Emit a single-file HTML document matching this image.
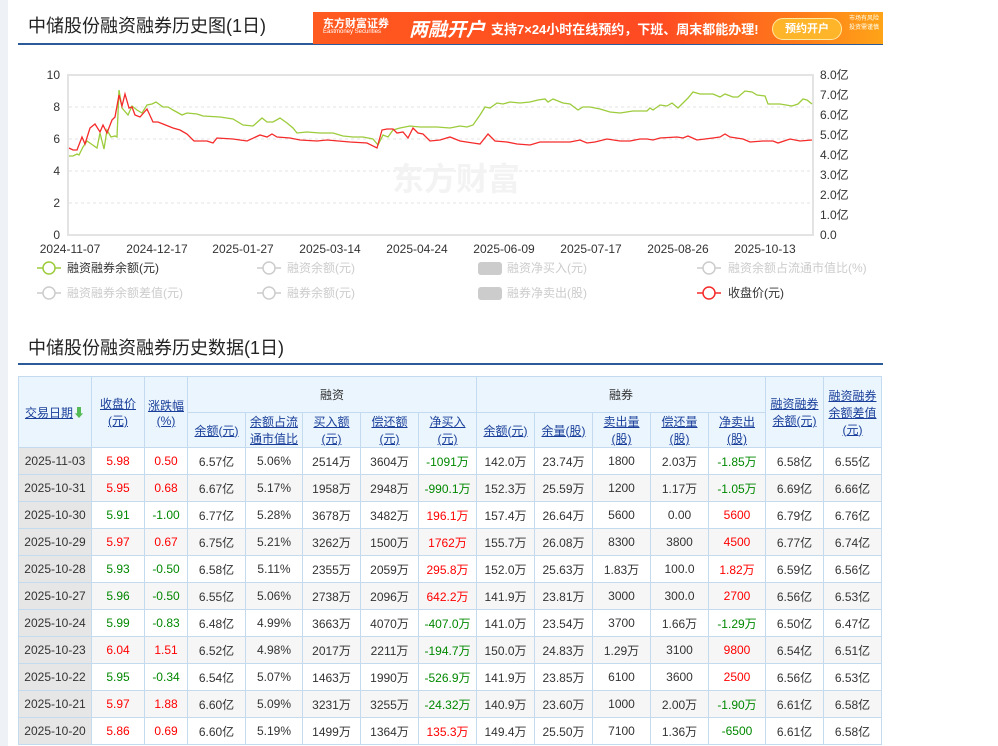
<!DOCTYPE html>
<html><head><meta charset="utf-8"><style>
body{margin:0;width:998px;height:746px;overflow:hidden;background:#fff;font-family:"Liberation Sans","Noto Sans CJK SC",sans-serif;position:relative}
.strip{position:absolute;left:0;top:0;width:8px;height:746px;background:#eef1f6}
.t{position:absolute;left:28px;font-size:18px;color:#222}
.ul{position:absolute;left:18px;width:865px;height:2px;background:#2c5b9a}
.banner{position:absolute;left:313px;top:12px;width:570px;height:32px;background:linear-gradient(90deg,#ff5a1f,#ff4a22 60%,#ff7a1a 85%,#ffa418);color:#fff}
table{position:absolute;left:18px;top:376px;border-collapse:collapse;font-size:12px;color:#333}
td,th{border:1px solid #c4dbef;text-align:center;padding:0;font-weight:normal}
th{background:#eaf5fd;color:#333}
th a{color:#1a3f9a;text-decoration:underline}
tbody td{height:26px}
tbody tr:nth-child(even) td{background:#f6f6f6}
td.d{background:#e6e6e6!important}
.r{color:#f00}.g{color:#080}
</style></head><body>
<div class="strip"></div>
<div class="t" style="top:12px">中储股份融资融券历史图(1日)</div>
<div class="ul" style="top:43px"></div>
<div class="banner">
<div style="position:absolute;left:10px;top:3px;font-size:11px;font-weight:bold">东方财富证券</div>
<div style="position:absolute;left:10px;top:17px;font-size:6px">Eastmoney Securities</div>
<div style="position:absolute;left:96px;top:3px;font-size:19px;font-weight:bold;font-style:italic">两融开户</div>
<div style="position:absolute;left:178px;top:7px;font-size:13px;font-weight:bold;white-space:nowrap">支持7×24小时在线预约，下班、周末都能办理!</div>
<div style="position:absolute;left:459px;top:6px;width:68px;height:20px;border:1px solid #ffe9a0;border-radius:11px;background:#ffb52a;font-size:11px;font-weight:bold;text-align:center;line-height:20px">预约开户</div>
<div style="position:absolute;left:536px;top:3px;font-size:6px;line-height:9px;color:#ffe">市场有风险<br>投资需谨慎</div>
</div>
<svg style="position:absolute;left:0;top:0" width="998" height="320">
<rect x="68" y="75" width="745" height="160" fill="none" stroke="#e3e3e3" stroke-width="2"/>
<g stroke="#e3e3e3" stroke-dasharray="3,3"><line x1="69" x2="812" y1="107" y2="107"/><line x1="69" x2="812" y1="139" y2="139"/><line x1="69" x2="812" y1="171" y2="171"/><line x1="69" x2="812" y1="203" y2="203"/></g>
<text x="392" y="190" font-size="32" font-weight="bold" fill="#f3f3f3">东方财富</text>
<g font-size="12" fill="#333" text-anchor="end"><text x="60" y="79">10</text><text x="60" y="111">8</text><text x="60" y="143">6</text><text x="60" y="175">4</text><text x="60" y="207">2</text><text x="60" y="239">0</text></g>
<g font-size="12" fill="#333"><text x="820" y="79">8.0亿</text><text x="820" y="99">7.0亿</text><text x="820" y="119">6.0亿</text><text x="820" y="139">5.0亿</text><text x="820" y="159">4.0亿</text><text x="820" y="179">3.0亿</text><text x="820" y="199">2.0亿</text><text x="820" y="219">1.0亿</text><text x="820" y="239">0.0</text></g>
<g font-size="12" fill="#333" text-anchor="middle"><text x="70" y="253">2024-11-07</text><text x="157" y="253">2024-12-17</text><text x="243" y="253">2025-01-27</text><text x="330" y="253">2025-03-14</text><text x="417" y="253">2025-04-24</text><text x="504" y="253">2025-06-09</text><text x="591" y="253">2025-07-17</text><text x="678" y="253">2025-08-26</text><text x="765" y="253">2025-10-13</text></g>
<polyline fill="none" stroke="#9ccb3b" stroke-width="1.3" points="69,156 73,156 77,154 79,155 83,147 87,141 97,148 100,133 104,149 107,130 111,137 115,136 117,137 119,90 122,108 128,115 132,106 137,110 142,113 147,105 152,104 156,102 163,107 168,107 173,110 182,115 187,113 197,114 203,116 220,117 233,119 243,125 253,126 262,118 267,122 273,122 280,118 287,123 293,128 297,133 307,132 320,133 333,133 343,136 353,137 363,137 373,139 378,145 383,135 388,137 393,130 400,128 410,126 420,127 427,127 437,127 450,128 460,126 467,127 473,125 480,115 485,107 490,108 497,103 503,104 510,102 520,103 530,102 538,100 545,99 548,102 553,99 563,103 570,104 578,110 583,107 590,107 600,109 610,112 620,113 633,111 647,111 650,108 653,110 660,105 667,106 672,103 678,108 683,103 688,98 693,92 700,94 713,94 720,97 725,94 733,97 738,97 745,91 752,92 757,95 765,96 768,104 780,104 792,106 798,104 803,99 807,100 812,104"/>
<polyline fill="none" stroke="#f52a2a" stroke-width="1.3" points="69,148 73,150 77,150 82,137 85,144 90,128 95,124 100,132 103,125 107,133 112,120 115,117 119,95 122,106 125,94 129,108 132,107 135,115 140,117 147,109 153,122 158,122 163,124 173,128 180,130 187,134 194,141 200,141 207,141 213,143 217,138 233,139 247,141 260,135 267,137 272,134 277,137 290,138 300,140 317,141 327,140 350,142 367,143 377,148 382,130 387,129 393,129 397,133 403,132 408,138 413,128 418,133 423,134 430,141 440,140 450,137 460,141 473,143 480,144 488,134 495,141 507,142 517,144 530,145 540,142 557,142 570,142 580,140 587,143 595,142 607,139 620,141 630,141 640,139 647,139 653,140 660,138 677,137 683,138 688,136 697,140 713,138 720,137 725,134 730,137 743,139 750,142 763,141 773,141 778,143 790,139 800,141 812,140"/>
<g stroke-width="1.5" fill="#fff">
<line x1="37" x2="61" y1="268" y2="268" stroke="#9ccb3b"/><circle cx="49" cy="268" r="6" stroke="#9ccb3b"/>
<line x1="257" x2="281" y1="268" y2="268" stroke="#ccc"/><circle cx="269" cy="268" r="6" stroke="#ccc"/>
<line x1="697" x2="721" y1="268" y2="268" stroke="#ccc"/><circle cx="709" cy="268" r="6" stroke="#ccc"/>
<line x1="37" x2="61" y1="293" y2="293" stroke="#ccc"/><circle cx="49" cy="293" r="6" stroke="#ccc"/>
<line x1="257" x2="281" y1="293" y2="293" stroke="#ccc"/><circle cx="269" cy="293" r="6" stroke="#ccc"/>
<line x1="697" x2="721" y1="293" y2="293" stroke="#f52a2a"/><circle cx="709" cy="293" r="6" stroke="#f52a2a"/>
</g>
<rect x="478" y="262" width="24" height="13" rx="3" fill="#ccc"/><rect x="478" y="287" width="24" height="13" rx="3" fill="#ccc"/>
<g font-size="12" fill="#ccc"><text x="67" y="272" fill="#333">融资融券余额(元)</text><text x="287" y="272">融资余额(元)</text><text x="507" y="272">融资净买入(元)</text><text x="728" y="272">融资余额占流通市值比(%)</text><text x="67" y="297">融资融券余额差值(元)</text><text x="287" y="297">融券余额(元)</text><text x="507" y="297">融券净卖出(股)</text><text x="728" y="297" fill="#333">收盘价(元)</text></g>
</svg>
<div class="t" style="top:334px">中储股份融资融券历史数据(1日)</div>
<div class="ul" style="top:363px"></div>
<table>
<colgroup><col style="width:73px"><col style="width:53px"><col style="width:43px"><col style="width:58px"><col style="width:57px"><col style="width:58px"><col style="width:58px"><col style="width:58px"><col style="width:58px"><col style="width:58px"><col style="width:58px"><col style="width:58px"><col style="width:57px"><col style="width:58px"><col style="width:58px"></colgroup>
<thead>
<tr style="height:36px"><th rowspan="2"><a>交易日期</a><span style="color:#5b5">⬇</span></th><th rowspan="2"><a>收盘价<br>(元)</a></th><th rowspan="2"><a>涨跌幅<br>(%)</a></th><th colspan="5">融资</th><th colspan="5">融券</th><th rowspan="2"><a>融资融券<br>余额(元)</a></th><th rowspan="2"><a>融资融券<br>余额差值<br>(元)</a></th></tr>
<tr style="height:35px"><th><a>余额(元)</a></th><th><a>余额占流<br>通市值比</a></th><th><a>买入额<br>(元)</a></th><th><a>偿还额<br>(元)</a></th><th><a>净买入<br>(元)</a></th><th><a>余额(元)</a></th><th><a>余量(股)</a></th><th><a>卖出量<br>(股)</a></th><th><a>偿还量<br>(股)</a></th><th><a>净卖出<br>(股)</a></th></tr>
</thead>
<tbody>
<tr><td class="d">2025-11-03</td><td class="r">5.98</td><td class="r">0.50</td><td>6.57亿</td><td>5.06%</td><td>2514万</td><td>3604万</td><td class="g">-1091万</td><td>142.0万</td><td>23.74万</td><td>1800</td><td>2.03万</td><td class="g">-1.85万</td><td>6.58亿</td><td>6.55亿</td></tr>
<tr><td class="d">2025-10-31</td><td class="r">5.95</td><td class="r">0.68</td><td>6.67亿</td><td>5.17%</td><td>1958万</td><td>2948万</td><td class="g">-990.1万</td><td>152.3万</td><td>25.59万</td><td>1200</td><td>1.17万</td><td class="g">-1.05万</td><td>6.69亿</td><td>6.66亿</td></tr>
<tr><td class="d">2025-10-30</td><td class="g">5.91</td><td class="g">-1.00</td><td>6.77亿</td><td>5.28%</td><td>3678万</td><td>3482万</td><td class="r">196.1万</td><td>157.4万</td><td>26.64万</td><td>5600</td><td>0.00</td><td class="r">5600</td><td>6.79亿</td><td>6.76亿</td></tr>
<tr><td class="d">2025-10-29</td><td class="r">5.97</td><td class="r">0.67</td><td>6.75亿</td><td>5.21%</td><td>3262万</td><td>1500万</td><td class="r">1762万</td><td>155.7万</td><td>26.08万</td><td>8300</td><td>3800</td><td class="r">4500</td><td>6.77亿</td><td>6.74亿</td></tr>
<tr><td class="d">2025-10-28</td><td class="g">5.93</td><td class="g">-0.50</td><td>6.58亿</td><td>5.11%</td><td>2355万</td><td>2059万</td><td class="r">295.8万</td><td>152.0万</td><td>25.63万</td><td>1.83万</td><td>100.0</td><td class="r">1.82万</td><td>6.59亿</td><td>6.56亿</td></tr>
<tr><td class="d">2025-10-27</td><td class="g">5.96</td><td class="g">-0.50</td><td>6.55亿</td><td>5.06%</td><td>2738万</td><td>2096万</td><td class="r">642.2万</td><td>141.9万</td><td>23.81万</td><td>3000</td><td>300.0</td><td class="r">2700</td><td>6.56亿</td><td>6.53亿</td></tr>
<tr><td class="d">2025-10-24</td><td class="g">5.99</td><td class="g">-0.83</td><td>6.48亿</td><td>4.99%</td><td>3663万</td><td>4070万</td><td class="g">-407.0万</td><td>141.0万</td><td>23.54万</td><td>3700</td><td>1.66万</td><td class="g">-1.29万</td><td>6.50亿</td><td>6.47亿</td></tr>
<tr><td class="d">2025-10-23</td><td class="r">6.04</td><td class="r">1.51</td><td>6.52亿</td><td>4.98%</td><td>2017万</td><td>2211万</td><td class="g">-194.7万</td><td>150.0万</td><td>24.83万</td><td>1.29万</td><td>3100</td><td class="r">9800</td><td>6.54亿</td><td>6.51亿</td></tr>
<tr><td class="d">2025-10-22</td><td class="g">5.95</td><td class="g">-0.34</td><td>6.54亿</td><td>5.07%</td><td>1463万</td><td>1990万</td><td class="g">-526.9万</td><td>141.9万</td><td>23.85万</td><td>6100</td><td>3600</td><td class="r">2500</td><td>6.56亿</td><td>6.53亿</td></tr>
<tr><td class="d">2025-10-21</td><td class="r">5.97</td><td class="r">1.88</td><td>6.60亿</td><td>5.09%</td><td>3231万</td><td>3255万</td><td class="g">-24.32万</td><td>140.9万</td><td>23.60万</td><td>1000</td><td>2.00万</td><td class="g">-1.90万</td><td>6.61亿</td><td>6.58亿</td></tr>
<tr><td class="d">2025-10-20</td><td class="r">5.86</td><td class="r">0.69</td><td>6.60亿</td><td>5.19%</td><td>1499万</td><td>1364万</td><td class="r">135.3万</td><td>149.4万</td><td>25.50万</td><td>7100</td><td>1.36万</td><td class="g">-6500</td><td>6.61亿</td><td>6.58亿</td></tr>
</tbody></table>
</body></html>
